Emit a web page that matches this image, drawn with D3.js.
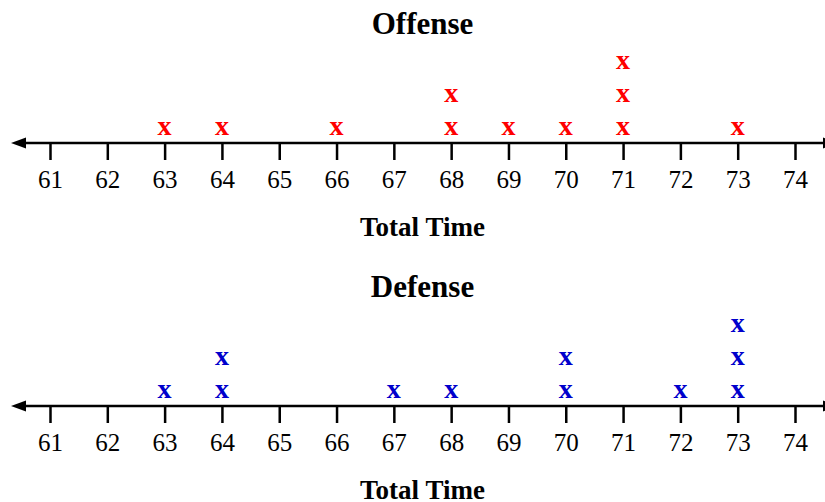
<!DOCTYPE html>
<html>
<head>
<meta charset="utf-8">
<script src="https://cdn.jsdelivr.net/npm/d3@7"></script>
<style>
  html, body { margin: 0; padding: 0; background: #fff; }
  svg { display: block; }
</style>
</head>
<body>
<svg id="chart" width="825" height="502"></svg>
<script>
const ticks = [61, 62, 63, 64, 65, 66, 67, 68, 69, 70, 71, 72, 73, 74];
const offenseTimes = [63, 64, 66, 68, 68, 69, 70, 71, 71, 71, 73];
const defenseTimes = [63, 64, 64, 67, 68, 70, 70, 72, 73, 73, 73];
const panels = [
  { title: "Offense", label: "Total Time", values: offenseTimes, color: "#ff0000", axisY: 143 },
  { title: "Defense", label: "Total Time", values: defenseTimes, color: "#0000cc", axisY: 406 }
];

const svg = d3.select("#chart");
const x = d3.scaleLinear().domain([61, 74]).range([50, 795]);
const serif = "'Liberation Serif', 'Times New Roman', serif";

panels.forEach(p => {
  const g = svg.append("g").attr("transform", `translate(0,${p.axisY})`);

  // title
  g.append("text")
    .attr("x", x(67.5)).attr("y", -109)
    .attr("text-anchor", "middle")
    .attr("font-family", serif).attr("font-weight", "bold").attr("font-size", 31)
    .text(p.title);

  // main line with arrows
  g.append("line")
    .attr("x1", 20).attr("x2", 828).attr("y1", 0).attr("y2", 0)
    .attr("stroke", "#000").attr("stroke-width", 2.5);
  g.append("path").attr("d", "M11,0 L26,-5.5 L26,5.5 Z").attr("fill", "#000");
  g.append("path").attr("d", "M838,0 L823,-5.5 L823,5.5 Z").attr("fill", "#000");

  // axis ticks
  const axis = d3.axisBottom(x).tickValues(ticks).tickSize(17).tickFormat(d3.format("d"));
  const ag = g.append("g").call(axis);
  ag.select(".domain").remove();
  ag.selectAll(".tick line").attr("stroke", "#000").attr("stroke-width", 2.5);
  ag.selectAll(".tick text")
    .attr("y", 45).attr("dy", 0)
    .attr("font-family", serif).attr("font-size", 25).attr("fill", "#000");

  // axis label
  g.append("text")
    .attr("x", x(67.5)).attr("y", 93)
    .attr("text-anchor", "middle")
    .attr("font-family", serif).attr("font-weight", "bold").attr("font-size", 27)
    .text(p.label);

  // stacked x marks
  const counts = {};
  const marks = p.values.map(v => {
    counts[v] = (counts[v] || 0) + 1;
    return { v, i: counts[v] - 1 };
  });
  g.selectAll("text.mark").data(marks).enter().append("text")
    .attr("class", "mark")
    .attr("x", d => x(d.v))
    .attr("y", d => -8 - d.i * 33)
    .attr("text-anchor", "middle")
    .attr("font-family", serif).attr("font-weight", "bold").attr("font-size", 28)
    .attr("fill", p.color)
    .text("x");
});
</script>
</body>
</html>
